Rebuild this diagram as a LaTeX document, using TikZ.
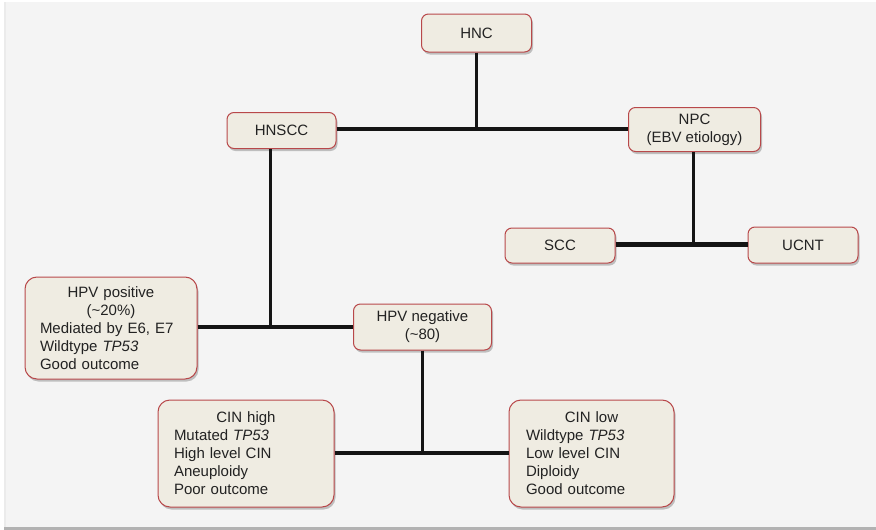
\documentclass[tikz,border=0pt]{standalone}
\usepackage{fontspec}
\setmainfont{Liberation Sans}
\usetikzlibrary{shadows}
\definecolor{panel}{HTML}{F4F4F4}
\definecolor{boxfill}{HTML}{EFECE2}
\definecolor{boxline}{HTML}{B8484A}
\definecolor{txt}{HTML}{222222}
\newcommand{\ctrline}[2]{\makebox[#1][c]{#2}}
\tikzset{
  box/.style={draw=boxline, fill=boxfill, line width=1pt, rounded corners=7pt,
    text=txt, inner sep=0pt, align=center,
    font=\fontsize{15}{18}\selectfont,
    drop shadow={shadow xshift=1.5pt, shadow yshift=-2.5pt, fill=black, opacity=0.22}},
  bigbox/.style={box, rounded corners=12pt, align=left},
  stem/.style={line width=3.2pt, draw=black!92},
  bar/.style={line width=4.2pt, draw=black!92},
}
\begin{document}
\begin{tikzpicture}[x=1pt,y=-1pt]
\useasboundingbox (0,0) rectangle (876,530);
\fill[white] (0,0) rectangle (876,530);
\fill[black!30] (4,527) rectangle (876,530);
\fill[panel] (4,2) rectangle (876,527);
\fill[black!8] (4,2) rectangle (6,527);

% nodes
\node[box, minimum width=110pt, minimum height=38pt] (hnc) at (476.5,33) {HNC};
\node[box, minimum width=109pt, minimum height=36pt] (hnscc) at (281.5,130.5) {HNSCC};
\node[box, minimum width=132pt, minimum height=44pt] (npc) at (694.5,129.5) {NPC\\(EBV etiology)};
\node[box, minimum width=110pt, minimum height=35pt] (scc) at (560,245.5) {SCC};
\node[box, minimum width=110pt, minimum height=36pt] (ucnt) at (803,245) {UCNT};
\node[box, minimum width=138pt, minimum height=46pt] (hpvneg) at (422.5,327) {HPV negative\\(\textasciitilde80)};
\node[bigbox, minimum width=172pt, minimum height=102pt, text width=142pt] (hpvpos) at (111,328)
  {\ctrline{142pt}{HPV positive}\\\ctrline{142pt}{(\textasciitilde20\%)}\\Mediated by E6, E7\\Wildtype \textit{TP53}\\Good outcome};
\node[bigbox, minimum width=176pt, minimum height=107pt, text width=144pt] (cinhigh) at (246,453.5)
  {\ctrline{144pt}{CIN high}\\Mutated \textit{TP53}\\High level CIN\\Aneuploidy\\Poor outcome};
\node[bigbox, minimum width=165pt, minimum height=107pt, text width=131pt] (cinlow) at (591.5,453.5)
  {\ctrline{131pt}{CIN low}\\Wildtype \textit{TP53}\\Low level CIN\\Diploidy\\Good outcome};

% junction coordinates
\coordinate (j1) at (476.5,128.8);
\coordinate (j2) at (270.5,327.2);
\coordinate (j3) at (693.5,244.5);
\coordinate (j4) at (422.5,453);

% connectors
\draw[bar] (hnscc.east |- j1) -- (npc.west |- j1);
\draw[stem] (hnc.south) -- (j1);
\draw[bar] (hpvpos.east |- j2) -- (hpvneg.west |- j2);
\draw[stem] (hnscc.south -| j2) -- (j2);
\draw[bar] (scc.east |- j3) -- (ucnt.west |- j3);
\draw[stem] (npc.south -| j3) -- (j3);
\draw[bar] (cinhigh.east |- j4) -- (cinlow.west |- j4);
\draw[stem] (hpvneg.south) -- (j4);
\end{tikzpicture}
\end{document}
